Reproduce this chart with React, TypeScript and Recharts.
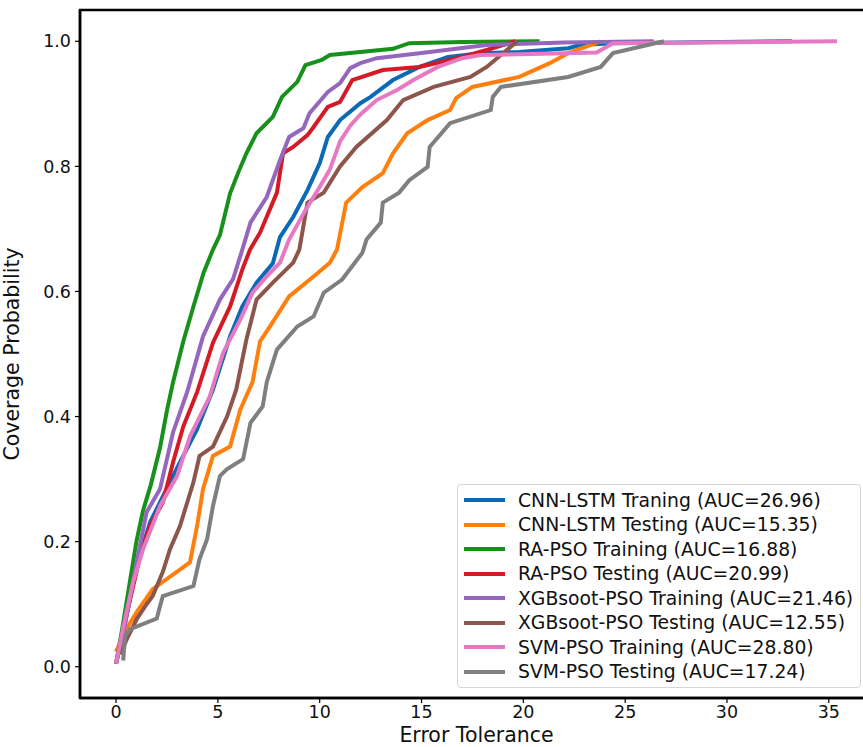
import {
  Label,
  Legend,
  Line,
  LineChart,
  ReferenceArea,
  XAxis,
  YAxis,
} from "recharts";

type Pt = [number, number];

const cnnTrain: Pt[] = [
  [0, 0.005], [0.5, 0.08], [1.0, 0.16], [1.67, 0.231], [2.16, 0.263], [3.14, 0.327],
  [3.98, 0.38], [4.76, 0.443], [5.6, 0.528], [6.2, 0.576], [6.9, 0.614], [7.7, 0.645],
  [8.05, 0.687], [8.7, 0.719], [9.4, 0.762], [10, 0.805], [10.4, 0.847], [11, 0.874],
  [12, 0.901], [12.5, 0.911], [13.6, 0.938], [14.9, 0.959], [16.3, 0.975], [17.9, 0.981],
  [19.8, 0.983], [22.2, 0.989], [22.8, 0.994], [24.4, 0.997], [33.2, 1.0],
];

const cnnTest: Pt[] = [
  [0, 0.024], [0.5, 0.06], [1.03, 0.088], [1.8, 0.124], [3.0, 0.152], [3.63, 0.167],
  [3.98, 0.225], [4.27, 0.284], [4.76, 0.337], [5.6, 0.352], [6.1, 0.411], [6.7, 0.455],
  [7.07, 0.52], [7.56, 0.544], [8.5, 0.592], [9.7, 0.624], [10.5, 0.646], [10.85, 0.667],
  [11.3, 0.742], [12.1, 0.767], [13.1, 0.789], [13.6, 0.821], [14.3, 0.853], [15.3, 0.874],
  [16.4, 0.89], [16.7, 0.909], [17.5, 0.927], [19.8, 0.943], [21.3, 0.965], [22.2, 0.981],
  [23.8, 1.0],
];

const raTrain: Pt[] = [
  [0, 0.005], [0.3, 0.06], [0.7, 0.14], [1.0, 0.2], [1.33, 0.25], [1.7, 0.29], [2.16, 0.35],
  [2.5, 0.41], [2.8, 0.455], [3.3, 0.52], [3.8, 0.576], [4.3, 0.63], [4.76, 0.667],
  [5.1, 0.69], [5.6, 0.757], [6.0, 0.79], [6.4, 0.821], [6.9, 0.853], [7.7, 0.879],
  [8.15, 0.911], [8.9, 0.935], [9.3, 0.962], [10.1, 0.97], [10.5, 0.978], [12, 0.983],
  [13.6, 0.988], [14.4, 0.997], [17, 0.999], [20.8, 1.0],
];

const raTest: Pt[] = [
  [0, 0.005], [0.5, 0.08], [1.18, 0.177], [1.67, 0.225], [2.3, 0.263], [2.8, 0.327],
  [3.3, 0.384], [3.98, 0.439], [4.76, 0.518], [5.6, 0.576], [6.2, 0.635], [6.58, 0.667],
  [7.07, 0.694], [7.9, 0.758], [8.2, 0.821], [8.7, 0.831], [9.4, 0.85], [9.7, 0.863],
  [10.4, 0.895], [11.0, 0.903], [11.6, 0.938], [13.1, 0.954], [14.9, 0.959], [16.9, 0.974],
  [18.2, 0.986], [19.6, 1.0],
];

const xgbTrain: Pt[] = [
  [0, 0.005], [0.4, 0.06], [0.69, 0.11], [1.03, 0.17], [1.5, 0.247], [2.16, 0.284],
  [2.8, 0.375], [3.5, 0.44], [4.27, 0.528], [5.1, 0.587], [5.75, 0.62], [6.2, 0.667],
  [6.6, 0.71], [7.4, 0.751], [8.05, 0.81], [8.5, 0.847], [9.2, 0.861], [9.5, 0.885],
  [10.4, 0.919], [11.0, 0.933], [11.5, 0.957], [12.0, 0.965], [12.8, 0.973], [14.9, 0.981],
  [18.2, 0.994], [22, 0.998], [26.4, 1.0],
];

const xgbTest: Pt[] = [
  [0.2, 0.02], [0.54, 0.045], [1.03, 0.077], [1.5, 0.1], [1.8, 0.113], [2.3, 0.152],
  [2.65, 0.188], [3.14, 0.225], [3.8, 0.295], [4.1, 0.337], [4.76, 0.352], [5.45, 0.4],
  [5.9, 0.443], [6.4, 0.523], [6.9, 0.587], [7.7, 0.614], [8.7, 0.646], [9.0, 0.667],
  [9.4, 0.742], [10.2, 0.758], [11, 0.8], [11.8, 0.831], [13.3, 0.874], [14.1, 0.906],
  [15.6, 0.927], [17.4, 0.943], [18.2, 0.959], [19.7, 1.0],
];

const svmTrain: Pt[] = [
  [0, 0.005], [0.4, 0.07], [0.84, 0.136], [1.33, 0.188], [2.16, 0.257], [3.0, 0.305],
  [3.63, 0.368], [4.6, 0.432], [5.26, 0.502], [6.1, 0.555], [6.7, 0.598], [7.4, 0.624],
  [8.05, 0.646], [8.5, 0.683], [9.3, 0.73], [10, 0.767], [10.5, 0.795], [11, 0.84],
  [11.5, 0.865], [12, 0.883], [12.8, 0.906], [13.8, 0.922], [14.6, 0.938], [15.8, 0.959],
  [17, 0.973], [17.9, 0.978], [23.6, 0.982], [24.4, 0.997], [35.4, 1.0],
];

const svmTest: Pt[] = [
  [0.35, 0.01], [0.45, 0.05], [0.69, 0.06], [2.0, 0.077], [2.16, 0.097], [2.3, 0.113],
  [3.8, 0.129], [4.1, 0.172], [4.47, 0.204], [4.76, 0.257], [5.1, 0.305], [5.45, 0.316],
  [6.24, 0.332], [6.6, 0.39], [7.2, 0.416], [7.4, 0.455], [7.9, 0.507], [8.9, 0.544],
  [9.7, 0.56], [10.2, 0.598], [11.1, 0.619], [12.1, 0.662], [12.3, 0.683], [13, 0.71],
  [13.1, 0.742], [13.9, 0.758], [14.4, 0.778], [15.3, 0.799], [15.4, 0.831], [16.4, 0.869],
  [18.4, 0.89], [18.5, 0.911], [18.9, 0.927], [22.2, 0.943], [23.8, 0.959], [24.4, 0.981],
  [26.9, 1.0],
];

const labels = [
  "CNN-LSTM Traning (AUC=26.96)",
  "CNN-LSTM Testing (AUC=15.35)",
  "RA-PSO Training (AUC=16.88)",
  "RA-PSO Testing (AUC=20.99)",
  "XGBsoot-PSO Training (AUC=21.46)",
  "XGBsoot-PSO Testing (AUC=12.55)",
  "SVM-PSO Training (AUC=28.80)",
  "SVM-PSO Testing (AUC=17.24)",
];

const colors = [
  "#0a6ab8",
  "#ff7f0e",
  "#17911c",
  "#d41a24",
  "#9467bd",
  "#8c564b",
  "#e779c2",
  "#7f7f7f",
];

const seriesData = [cnnTrain, cnnTest, raTrain, raTest, xgbTrain, xgbTest, svmTrain, svmTest];

const xTicks = [0, 5, 10, 15, 20, 25, 30, 35];
const yTicks = [0, 0.2, 0.4, 0.6, 0.8, 1.0];

const X_DOMAIN: [number, number] = [-1.77, 37.17];
const Y_DOMAIN: [number, number] = [-0.05, 1.05];
const FONT = "'DejaVu Sans', sans-serif";

function LegendBox() {
  return (
    <div
      style={{
        width: 404,
        height: 204,
        boxSizing: "border-box",
        border: "1px solid #d6d6d6",
        borderRadius: 4,
        background: "rgba(255,255,255,0.85)",
        padding: "3px 0 0 6px",
        fontFamily: FONT,
        fontSize: 18.8,
        color: "#111",
      }}
    >
      {labels.map((label, i) => (
        <div
          key={label}
          style={{ display: "flex", alignItems: "center", height: 24.5 }}
        >
          <span
            style={{
              display: "inline-block",
              width: 41,
              height: 4,
              background: colors[i],
              marginRight: 13,
            }}
          />
          <span style={{ whiteSpace: "nowrap" }}>{label}</span>
        </div>
      ))}
    </div>
  );
}

export default function App() {
  return (
    <div
      style={{
        position: "absolute",
        left: 0,
        top: 0,
        width: 863,
        height: 747,
        overflow: "hidden",
        background: "#fff",
      }}
    >
      <LineChart
        width={880}
        height={747}
        margin={{ top: 10, right: 7, bottom: 0, left: 0 }}
        style={{ fontFamily: FONT }}
      >
        <ReferenceArea
          x1={X_DOMAIN[0]}
          x2={X_DOMAIN[1]}
          y1={Y_DOMAIN[0]}
          y2={Y_DOMAIN[1]}
          fill="none"
          stroke="#000"
          strokeWidth={2.5}
          ifOverflow="visible"
        />
        <XAxis
          type="number"
          dataKey="x"
          domain={X_DOMAIN}
          ticks={xTicks}
          allowDataOverflow
          height={49}
          axisLine={{ stroke: "#000", strokeWidth: 2.5 }}
          tickLine={{ stroke: "#000", strokeWidth: 1.2 }}
          tickSize={5}
          tickMargin={3}
          tick={{ fill: "#111", fontSize: 17.5, fontFamily: FONT }}
        >
          <Label
            value="Error Tolerance"
            position="insideBottom"
            offset={5}
            style={{ fill: "#111", fontSize: 20.5, fontFamily: FONT }}
          />
        </XAxis>
        <YAxis
          type="number"
          domain={Y_DOMAIN}
          ticks={yTicks}
          allowDataOverflow
          width={80}
          tickFormatter={(v: number) => v.toFixed(1)}
          axisLine={{ stroke: "#000", strokeWidth: 2.5 }}
          tickLine={{ stroke: "#000", strokeWidth: 1.2 }}
          tickSize={5}
          tickMargin={4}
          tick={{ fill: "#111", fontSize: 17.5, fontFamily: FONT }}
        >
          <Label
            value="Coverage Probability"
            angle={-90}
            position="insideLeft"
            offset={12}
            style={{ textAnchor: "middle", fill: "#111", fontSize: 20.5, fontFamily: FONT }}
          />
        </YAxis>
        {seriesData.map((pts, i) => (
          <Line
            key={labels[i]}
            name={labels[i]}
            data={pts.map(([x, y]) => ({ x, y }))}
            dataKey="y"
            type="linear"
            stroke={colors[i]}
            strokeWidth={4}
            dot={false}
            activeDot={false}
            isAnimationActive={false}
          />
        ))}
        <Legend
          layout="vertical"
          align="center"
          verticalAlign="middle"
          content={() => <LegendBox />}
          wrapperStyle={{ position: "absolute", left: 457, top: 484, width: 404 }}
        />
      </LineChart>
    </div>
  );
}
